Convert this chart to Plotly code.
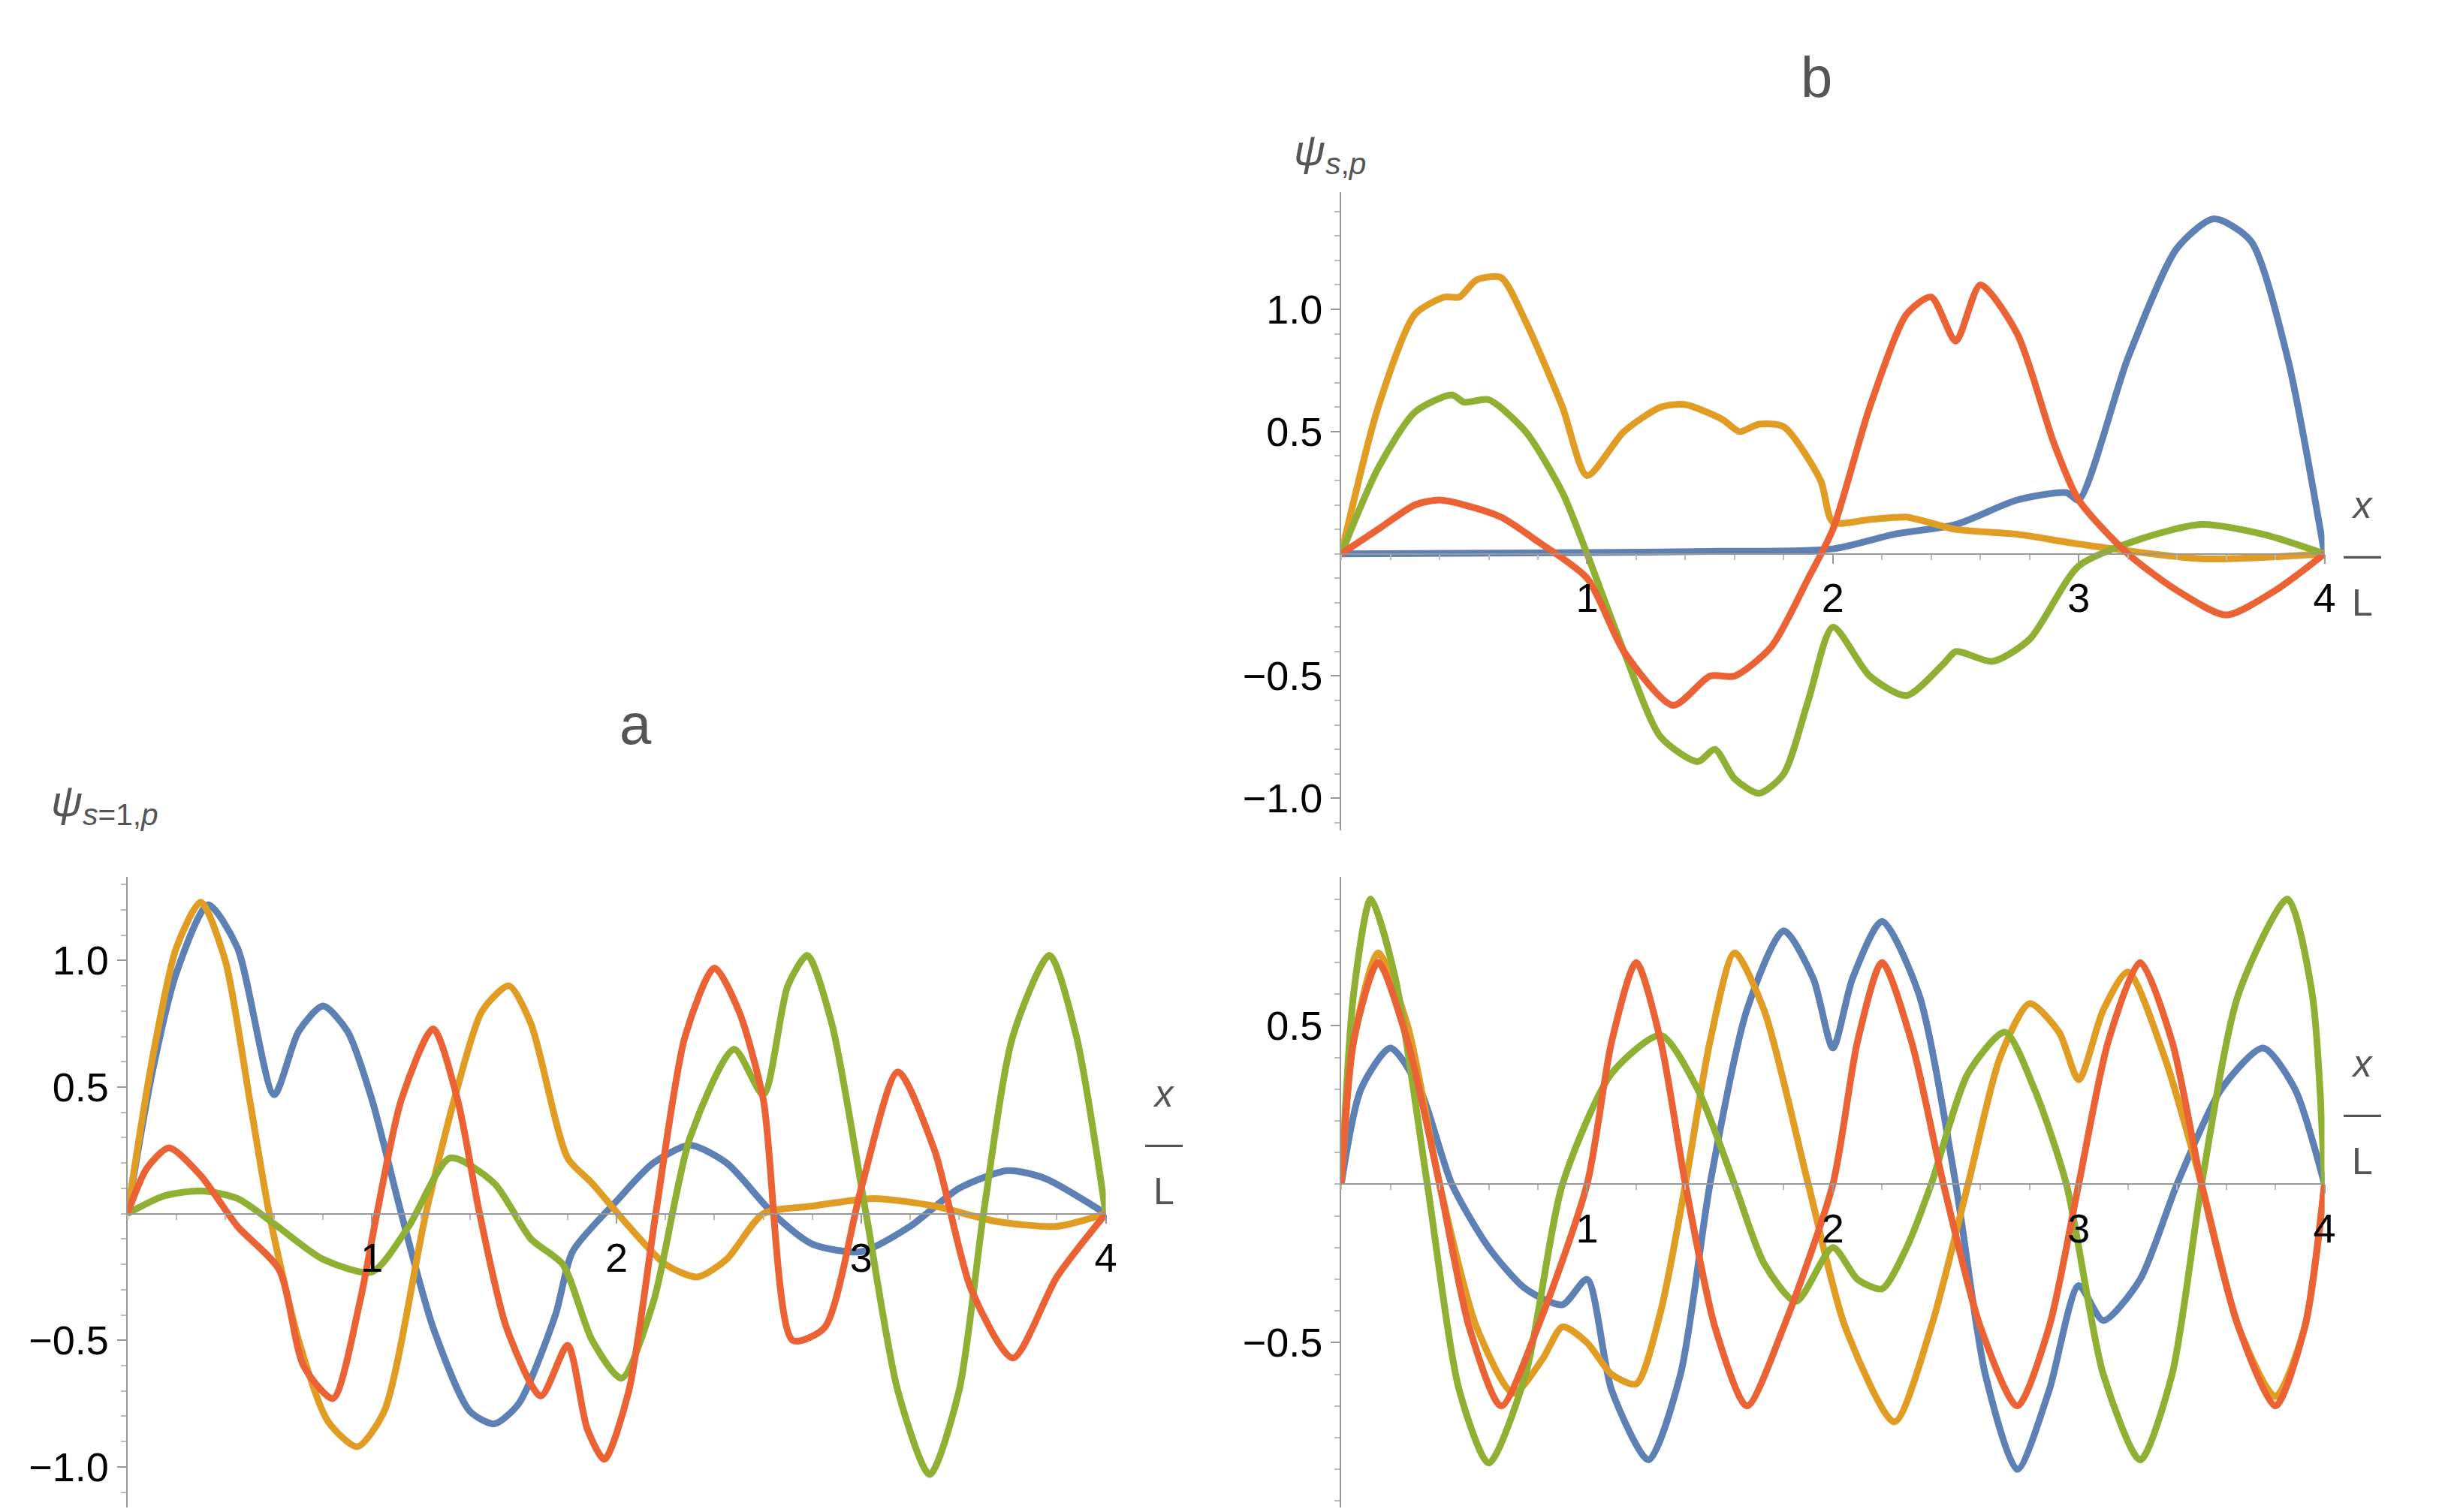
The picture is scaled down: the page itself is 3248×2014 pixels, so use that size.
import plotly.graph_objects as go

# ---------------- data ----------------
# Panel a
a_blue_x = [0,0.1,0.2,0.33,0.45,0.6,0.7,0.8,0.9,1.0,1.12,1.25,1.4,1.5,1.6,1.75,1.82,2.0,2.15,2.3,2.45,2.64,2.8,3.0,3.2,3.4,3.6,3.75,4]
a_blue_y = [0,0.55,0.95,1.22,1.05,0.47,0.72,0.82,0.72,0.45,0,-0.45,-0.78,-0.83,-0.75,-0.4,-0.15,0.05,0.2,0.27,0.2,0,-0.12,-0.15,-0.05,0.1,0.17,0.14,0]
a_orange_x = [0,0.1,0.2,0.3,0.4,0.5,0.58,0.7,0.82,0.94,1.05,1.22,1.35,1.45,1.56,1.65,1.8,1.9,2.05,2.2,2.33,2.45,2.6,2.8,3.05,3.3,3.55,3.8,4]
a_orange_y = [0,0.6,1.05,1.23,1.0,0.45,0,-0.5,-0.82,-0.92,-0.78,0,0.5,0.8,0.9,0.75,0.22,0.12,-0.05,-0.2,-0.25,-0.18,0,0.03,0.06,0.03,-0.03,-0.05,0]
a_green_x = [0,0.15,0.3,0.45,0.6,0.8,1.0,1.15,1.32,1.5,1.65,1.78,1.9,2.02,2.15,2.3,2.48,2.6,2.7,2.78,2.88,3.02,3.15,3.28,3.4,3.5,3.62,3.77,3.88,4]
a_green_y = [0,0.07,0.09,0.06,-0.04,-0.18,-0.23,-0.05,0.22,0.12,-0.1,-0.2,-0.5,-0.65,-0.35,0.3,0.65,0.47,0.9,1.02,0.75,0,-0.7,-1.03,-0.7,0,0.7,1.02,0.7,0]
a_red_x = [0,0.08,0.17,0.3,0.45,0.62,0.72,0.84,0.95,1.02,1.12,1.25,1.35,1.44,1.55,1.69,1.8,1.88,1.95,2.05,2.16,2.28,2.4,2.5,2.6,2.72,2.85,3.0,3.15,3.3,3.45,3.62,3.8,4]
a_red_y = [0,0.18,0.26,0.15,-0.05,-0.22,-0.6,-0.73,-0.35,0,0.45,0.73,0.45,0,-0.45,-0.72,-0.52,-0.85,-0.97,-0.7,0,0.7,0.97,0.8,0.45,-0.5,-0.45,0.1,0.56,0.25,-0.3,-0.57,-0.25,0]

# Panel b (top right)
b_blue_x = [0,1,1.5,2,2.25,2.5,2.75,2.95,3.0,3.2,3.4,3.55,3.7,3.85,4]
b_blue_y = [0,0.005,0.01,0.02,0.08,0.12,0.22,0.25,0.22,0.8,1.25,1.37,1.28,0.8,0]
b_orange_x = [0,0.15,0.3,0.42,0.48,0.55,0.65,0.75,0.9,1.0,1.15,1.3,1.4,1.55,1.62,1.7,1.8,1.95,2.0,2.15,2.3,2.5,2.75,3.0,3.5,4]
b_orange_y = [0,0.6,0.98,1.05,1.05,1.12,1.13,0.95,0.6,0.32,0.5,0.6,0.61,0.55,0.5,0.53,0.52,0.3,0.13,0.14,0.15,0.1,0.08,0.04,-0.02,0]
b_green_x = [0,0.15,0.3,0.45,0.5,0.6,0.75,0.9,1.0,1.15,1.3,1.45,1.52,1.6,1.7,1.8,1.9,2.0,2.15,2.3,2.45,2.5,2.65,2.8,3.0,3.25,3.5,3.75,4]
b_green_y = [0,0.35,0.58,0.65,0.62,0.63,0.5,0.25,0,-0.4,-0.75,-0.85,-0.8,-0.92,-0.98,-0.9,-0.6,-0.3,-0.5,-0.58,-0.45,-0.4,-0.44,-0.35,-0.05,0.06,0.12,0.08,0]
b_red_x = [0,0.15,0.3,0.4,0.5,0.65,0.8,1.0,1.15,1.35,1.5,1.6,1.75,1.9,2.0,2.15,2.3,2.4,2.5,2.6,2.75,2.9,3.0,3.2,3.4,3.6,3.8,4]
b_red_y = [0,0.1,0.2,0.22,0.2,0.15,0.05,-0.1,-0.4,-0.62,-0.5,-0.5,-0.38,-0.1,0.1,0.6,0.98,1.05,0.87,1.1,0.9,0.45,0.22,0.0,-0.15,-0.25,-0.15,0]

# Panel c (bottom right)
c_blue_x = [0,0.08,0.2,0.32,0.45,0.6,0.75,0.9,1.0,1.1,1.25,1.38,1.5,1.65,1.8,1.92,2.0,2.08,2.2,2.35,2.5,2.62,2.75,2.88,3.0,3.1,3.25,3.4,3.58,3.75,3.88,4]
c_blue_y = [0,0.3,0.43,0.3,0,-0.2,-0.33,-0.38,-0.3,-0.65,-0.87,-0.6,0,0.55,0.8,0.65,0.43,0.65,0.83,0.6,0,-0.6,-0.9,-0.65,-0.32,-0.43,-0.3,0,0.3,0.43,0.3,0]
c_orange_x = [0,0.05,0.15,0.27,0.4,0.55,0.7,0.82,0.9,1.0,1.1,1.2,1.3,1.4,1.5,1.6,1.72,1.9,2.05,2.25,2.4,2.55,2.68,2.8,2.92,3.0,3.1,3.2,3.35,3.5,3.65,3.8,3.92,4]
c_orange_y = [0,0.45,0.73,0.5,0,-0.45,-0.66,-0.55,-0.45,-0.5,-0.6,-0.63,-0.4,0,0.45,0.73,0.55,0,-0.45,-0.75,-0.45,0,0.4,0.57,0.48,0.33,0.55,0.67,0.4,0,-0.45,-0.67,-0.45,0]
c_green_x = [0,0.05,0.12,0.22,0.35,0.48,0.6,0.75,0.9,1.1,1.3,1.45,1.6,1.72,1.85,2.0,2.1,2.2,2.3,2.4,2.55,2.7,2.82,2.95,3.1,3.25,3.38,3.5,3.65,3.85,3.95,4]
c_green_y = [0,0.6,0.9,0.65,0,-0.65,-0.88,-0.6,0,0.35,0.47,0.3,0,-0.25,-0.37,-0.2,-0.3,-0.33,-0.2,0,0.35,0.48,0.3,0,-0.6,-0.87,-0.6,0,0.6,0.9,0.6,0]
c_red_x = [0,0.05,0.15,0.27,0.4,0.52,0.65,0.8,1.0,1.1,1.2,1.3,1.4,1.52,1.65,1.8,2.0,2.1,2.2,2.32,2.45,2.6,2.75,2.88,3.0,3.12,3.25,3.38,3.5,3.65,3.8,3.92,4]
c_red_y = [0,0.45,0.7,0.45,0,-0.45,-0.7,-0.45,0,0.45,0.7,0.45,0,-0.45,-0.7,-0.45,0,0.45,0.7,0.45,0,-0.45,-0.7,-0.45,0,0.45,0.7,0.45,0,-0.45,-0.7,-0.45,0]

x_ticks = [1, 2, 3, 4]
x_tick_text = ["1", "2", "3", "4"]

COLORS = ["#5E81B5", "#E19C24", "#8FB032", "#EB6235"]
FONT = "Liberation Sans, Arial, sans-serif"
LW = 9

panels = [
    ("a", [0.05, 0.453], [0.007, 0.424], [-1.16, 1.33], [-1.0, -0.5, 0.5, 1.0], ["−1.0", "−0.5", "0.5", "1.0"],
     [(a_blue_x, a_blue_y), (a_orange_x, a_orange_y), (a_green_x, a_green_y), (a_red_x, a_red_y)]),
    ("b", [0.55, 0.955], [0.455, 0.877], [-1.13, 1.48], [-1.0, -0.5, 0.5, 1.0], ["−1.0", "−0.5", "0.5", "1.0"],
     [(b_blue_x, b_blue_y), (b_orange_x, b_orange_y), (b_green_x, b_green_y), (b_red_x, b_red_y)]),
    ("c", [0.55, 0.955], [0.007, 0.424], [-1.02, 0.97], [-0.5, 0.5], ["−0.5", "0.5"],
     [(c_blue_x, c_blue_y), (c_orange_x, c_orange_y), (c_green_x, c_green_y), (c_red_x, c_red_y)]),
]

fig = go.Figure()
layout = dict(
    width=3248, height=2014, paper_bgcolor="white", plot_bgcolor="white",
    showlegend=False, margin=dict(l=0, r=0, t=0, b=0), font=dict(family=FONT, size=54, color="black"),
)
annotations = []
for i, (name, xd, yd, yr, yt, ytt, curves) in enumerate(panels):
    n = "" if i == 0 else str(i + 1)
    xa, ya = "x" + n, "y" + n
    for (xs, ys), col in zip(curves, COLORS):
        fig.add_trace(go.Scatter(x=xs, y=ys, mode="lines", xaxis=xa, yaxis=ya,
                                 line=dict(color=col, width=LW, shape="spline", smoothing=0.7),
                                 hoverinfo="skip"))
    frac = (0 - yr[0]) / (yr[1] - yr[0])
    pos = yd[0] + frac * (yd[1] - yd[0])
    layout["xaxis" + n] = dict(
        domain=xd, range=[0, 4.0], anchor="free", position=pos, showline=True, linecolor="#999",
        linewidth=2, showgrid=False, zeroline=False, tickvals=x_ticks, ticktext=x_tick_text,
        ticks="outside", ticklen=12, tickcolor="#999", tickwidth=2,
        minor=dict(ticks="outside", ticklen=7, dtick=0.2, tickcolor="#bbb"),
        tickfont=dict(size=54, family=FONT, color="black"))
    layout["yaxis" + n] = dict(
        domain=yd, range=yr, anchor=xa, showline=True, linecolor="#999", linewidth=2,
        showgrid=False, zeroline=False, tickvals=yt, ticktext=ytt, ticks="outside",
        ticklen=12, tickcolor="#999", tickwidth=2,
        minor=dict(ticks="outside", ticklen=7, dtick=0.1, tickcolor="#bbb"),
        tickfont=dict(size=54, family=FONT, color="black"))
    annotations.append(dict(text="<i>x</i><br>—<br>L", xref="paper", yref="paper",
                            x=xd[1] + 0.024, y=pos, showarrow=False,
                            font=dict(size=50, family=FONT, color="#555"), align="center"))

annotations += [
    dict(text="a", xref="paper", yref="paper", x=0.252, y=0.525, showarrow=False,
         font=dict(size=76, family=FONT, color="#555")),
    dict(text="b", xref="paper", yref="paper", x=0.753, y=0.975, showarrow=False,
         font=dict(size=76, family=FONT, color="#555")),
    dict(text="<i>ψ</i><sub><i>s</i>=1,<i>p</i></sub>", xref="paper", yref="paper", x=0.018, y=0.472,
         xanchor="left", showarrow=False, font=dict(size=58, family=FONT, color="#555")),
    dict(text="<i>ψ</i><sub><i>s</i>,<i>p</i></sub>", xref="paper", yref="paper", x=0.53, y=0.922,
         xanchor="left", showarrow=False, font=dict(size=58, family=FONT, color="#555")),
]
layout["annotations"] = annotations
fig.update_layout(**layout)
fig.write_html("out.html")
